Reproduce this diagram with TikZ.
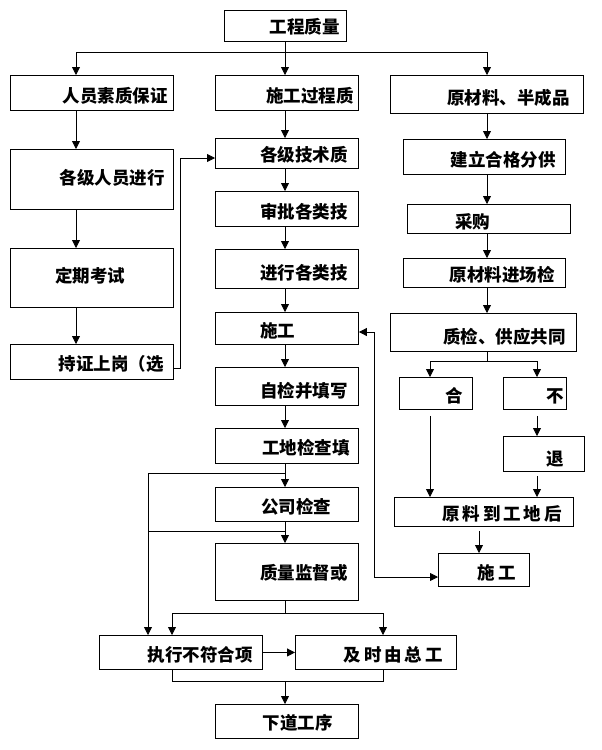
\documentclass[tikz,border=0pt]{standalone}
\usepackage{fontspec}
\setmainfont{Noto Sans CJK SC}
\usetikzlibrary{arrows.meta,calc}
\tikzset{
  box/.style={draw, line width=0.9pt, inner sep=0pt, anchor=north west},
  txt/.style={inner sep=0pt, font=\fontsize{17.5pt}{20pt}\selectfont\bfseries},
  ln/.style={line width=0.8pt},
  arr/.style={line width=0.8pt, -{Triangle[length=8pt,width=8pt]}},
  darr/.style={line width=0.8pt, {Triangle[length=8pt,width=8pt]}-{Triangle[length=8pt,width=8pt]}}
}
\newcommand\bx[5]{\node[box, minimum width=#4, minimum height=#5] (#1) at (#2,#3) {};}
\begin{document}
\begin{tikzpicture}[x=1pt,y=1pt]
\useasboundingbox (0,0) rectangle (602,-750);
% boxes
\bx{top}{224}{-10}{122}{31}
\bx{L1}{10}{-75}{163}{35}
\bx{M1}{215}{-75}{143}{35}
\bx{R1}{390}{-75}{193}{38}
\bx{L2}{10}{-149}{163}{60}
\bx{L3}{10}{-248}{163}{59}
\bx{L4}{10}{-344}{163}{35}
\bx{M2}{215}{-138}{143}{30}
\bx{M3}{215}{-191}{143}{35}
\bx{M4}{215}{-249}{143}{39}
\bx{M5}{215}{-312}{143}{32}
\bx{M6}{215}{-367}{143}{38}
\bx{M7}{215}{-428}{143}{35}
\bx{M8}{215}{-487}{143}{34}
\bx{M9}{215}{-543}{143}{57}
\bx{R2}{403}{-139}{162}{35}
\bx{R3}{407}{-204}{163}{29}
\bx{R4}{403}{-258}{162}{29}
\bx{R5}{390}{-313}{186}{38}
\bx{R6}{399}{-377}{73}{32}
\bx{R7}{503}{-377}{63}{32}
\bx{R8}{503}{-436}{81}{35}
\bx{R9}{394}{-497}{179}{29}
\bx{R10}{438}{-553}{91}{33}
\bx{B1}{99}{-635}{163}{34}
\bx{B2}{295}{-635}{161}{34}
\bx{B3}{215}{-704}{143}{34}
% texts
\node[txt, anchor=east] (tT) at (340,-27) {工程质量};
\node[txt, anchor=east] (tL1) at (168,-96) {人员素质保证};
\node[txt, anchor=east] (tM1) at (354,-96) {施工过程质};
\node[txt, anchor=east] (tR1) at (570,-98) {原材料、半成品};
\node[txt, anchor=east] (tL2) at (165,-178) {各级人员进行};
\node[txt, anchor=west] (tL3) at (55,-276) {定期考试};
\node[txt, anchor=east] (tL4) at (164,-364) {持证上岗（选};
\node[txt, anchor=east] (tM2) at (348,-155) {各级技术质};
\node[txt, anchor=east] (tM3) at (348,-212) {审批各类技};
\node[txt, anchor=east] (tM4) at (348,-273) {进行各类技};
\node[txt, anchor=west] (tM5) at (260,-331) {施工};
\node[txt, anchor=east] (tM6) at (348,-391) {自检并填写};
\node[txt, anchor=east] (tM7) at (350,-448) {工地检查填};
\node[txt, anchor=west] (tM8) at (261,-507) {公司检查};
\node[txt, anchor=east] (tM9) at (348,-573) {质量监督或};
\node[txt, anchor=east] (tR2) at (556,-160) {建立合格分供};
\node[txt, anchor=west] (tR3) at (455,-222) {采购};
\node[txt, anchor=east] (tR4) at (555,-275) {原材料进场检};
\node[txt, anchor=east] (tR5) at (566,-337) {质检、供应共同};
\node[txt, anchor=east] (tR6) at (463,-396) {合};
\node[txt, anchor=east] (tR7) at (564,-396) {不};
\node[txt, anchor=east] (tR8) at (564,-459) {退};
\node[txt, anchor=east] (tR9) at (562,-514) {原\,料\,到\,工\,地\,后};
\node[txt, anchor=east] (tR10) at (516,-573) {施\,工};
\node[txt, anchor=east] (tB1) at (253,-655) {执行不符合项};
\node[txt, anchor=east] (tB2) at (443,-655) {及\,时\,由\,总\,工};
\node[txt, anchor=east] (tB3) at (333,-723) {下道工序};
% junction coordinates
\coordinate (j0) at (285,-52);
\coordinate (cl) at (76,-52);
\coordinate (cr) at (487,-52);
\coordinate (k1) at (180,-158);
\coordinate (f1) at (148,-473);
\coordinate (f2) at (148,-531);
\coordinate (g1) at (172,-613);
\coordinate (g2) at (383,-613);
\coordinate (h1) at (172,-681);
\coordinate (h2) at (383,-681);
\coordinate (s1) at (430,-361);
\coordinate (s2) at (537,-361);
\coordinate (t) at (479,-540);
\coordinate (v) at (374,-332);
\coordinate (u) at (374,-577);
% top distribution
\draw[ln] (j0 |- top.south) -- (j0);
\draw[ln] (cl) -- (cr);
\draw[arr] (cl) -- (cl |- L1.north);
\draw[arr] (j0) -- (j0 |- M1.north);
\draw[arr] (cr) -- (cr |- R1.north);
% left column
\draw[arr] (cl |- L1.south) -- (cl |- L2.north);
\draw[arr] (cl |- L2.south) -- (cl |- L3.north);
\draw[arr] (cl |- L3.south) -- (cl |- L4.north);
\draw[arr] ($(L4.south east)+(0,12)$) -| (k1) -- (k1 -| M2.west);
% middle column
\draw[arr] (j0 |- M1.south) -- (j0 |- M2.north);
\draw[arr] (j0 |- M2.south) -- (j0 |- M3.north);
\draw[arr] (j0 |- M3.south) -- (j0 |- M4.north);
\draw[arr] (j0 |- M4.south) -- (j0 |- M5.north);
\draw[arr] (j0 |- M5.south) -- (j0 |- M6.north);
\draw[arr] (j0 |- M6.south) -- (j0 |- M7.north);
\draw[arr] (j0 |- M7.south) -- (j0 |- M8.north);
\draw[arr] (j0 |- M8.south) -- (j0 |- M9.north);
\draw[ln] (j0 |- f1) -- (f1);
\draw[ln] (j0 |- f2) -- (f2);
\draw[arr] (f1) -- (f1 |- B1.north);
% bottom
\draw[ln] (j0 |- M9.south) -- (j0 |- g1);
\draw[ln] (g1) -- (g2);
\draw[arr] (g1) -- (g1 |- B1.north);
\draw[arr] (g2) -- (g2 |- B2.north);
\draw[arr] (B1.east) -- (B2.west);
\draw[ln] (g1 |- B1.south) -- (h1) -- (h2) -- (g2 |- B2.south);
\draw[arr] (j0 |- h1) -- (j0 |- B3.north);
% right column
\draw[arr] (cr |- R1.south) -- (cr |- R2.north);
\draw[arr] (cr |- R2.south) -- (cr |- R3.north);
\draw[arr] (cr |- R3.south) -- (cr |- R4.north);
\draw[arr] (cr |- R4.south) -- (cr |- R5.north);
\draw[ln] (cr |- R5.south) -- (cr |- s1);
\draw[ln] (s1) -- (s2);
\draw[arr] (s1) -- (s1 |- R6.north);
\draw[arr] (s2) -- (s2 |- R7.north);
\draw[arr, shorten <=6pt] (s1 |- R6.south) -- (s1 |- R9.north);
\draw[arr, shorten <=6pt] (s2 |- R7.south) -- (s2 |- R8.north);
\draw[arr, shorten <=4pt] (s2 |- R8.south) -- (s2 |- R9.north);
\draw[arr, shorten <=4pt] (t |- R9.south) -- (t |- R10.north);
\draw[darr] (v -| M5.east) -- (v) -- (u) -- (u -| R10.west);
\end{tikzpicture}
\end{document}
